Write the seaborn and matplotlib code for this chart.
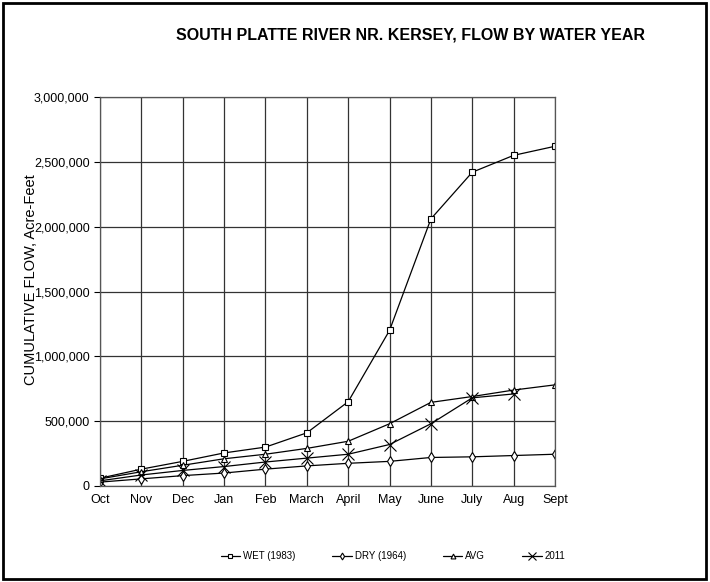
import numpy as np
import pandas as pd
import matplotlib
matplotlib.use('Agg')
import matplotlib.pyplot as plt
import seaborn as sns
from matplotlib.ticker import FuncFormatter

months = ['Oct', 'Nov', 'Dec', 'Jan', 'Feb', 'March', 'April',
          'May', 'June', 'July', 'Aug', 'Sept']
wet_1983 = [60000, 130000, 190000, 255000, 300000, 410000, 650000,
            1200000, 2060000, 2420000, 2550000, 2620000]
dry_1964 = [30000, 55000, 80000, 100000, 130000, 155000, 175000,
            190000, 220000, 225000, 235000, 245000]
avg_flow = [55000, 110000, 160000, 210000, 245000, 290000, 345000,
            480000, 645000, 690000, 740000, 780000]
flow_2011 = [40000, 85000, 120000, 150000, 185000, 215000, 245000,
             320000, 480000, 680000, 710000]
series_names = ['WET (1983)', 'DRY (1964)', 'AVG', '2011']

rows = []
for name, vals in zip(series_names, [wet_1983, dry_1964, avg_flow, flow_2011]):
    for i, v in enumerate(vals):
        rows.append({'month': i, 'flow': v, 'series': name})
df = pd.DataFrame(rows)

sns.set_style('white', {'text.color': 'black', 'xtick.color': 'black',
                        'ytick.color': 'black', 'axes.labelcolor': 'black'})
plt.rcParams['font.family'] = ['Liberation Sans', 'DejaVu Sans']

fig = plt.figure(figsize=(7.1, 5.82), dpi=100)
ax = fig.add_axes([100 / 710, 1 - 486 / 582, 455 / 710, 389 / 582])

markers = {'WET (1983)': 's', 'DRY (1964)': 'd', 'AVG': '^', '2011': 'x'}
sizes = {'WET (1983)': 5, 'DRY (1964)': 5, 'AVG': 5, '2011': 9}
for name in series_names:
    sub = df[df['series'] == name]
    sns.lineplot(data=sub, x='month', y='flow', ax=ax, color='black',
                 linewidth=0.9, marker=markers[name], markersize=sizes[name],
                 markerfacecolor='white', markeredgecolor='black',
                 markeredgewidth=0.8, label=name, legend=False)

ax.set_xlim(0, len(months) - 1)
ax.set_ylim(0, 3000000)
ax.set_xticks(range(len(months)))
ax.set_xticklabels(months, fontsize=9)
ax.set_yticks(np.arange(0, 3000001, 500000))
ax.yaxis.set_major_formatter(FuncFormatter(lambda v, p: f'{int(v):,}'))
ax.tick_params(axis='y', labelsize=9, length=4, color='black', direction='out', left=True)
ax.tick_params(axis='x', length=0, pad=6)
ax.grid(True, color='#333333', linewidth=0.9)
for s in ax.spines.values():
    s.set_color('#555555')
    s.set_linewidth(0.9)
ax.set_xlabel('')
ax.set_ylabel('')

fig.text(31 / 710, 1 - 280 / 582, 'CUMULATIVE FLOW, Acre-Feet', rotation=90,
         ha='center', va='center', fontsize=10.5, color='black')
fig.text(410 / 710, 1 - 35 / 582, 'SOUTH PLATTE RIVER NR. KERSEY, FLOW BY WATER YEAR',
         ha='center', va='center', fontsize=11.5, fontweight='heavy', color='black')

handles, labels = ax.get_legend_handles_labels()
fig.legend(handles, labels, loc='center', bbox_to_anchor=(393 / 710, 1 - 556 / 582),
           ncol=4, frameon=False, fontsize=7, handlelength=2.0, columnspacing=3.8,
           markerscale=0.7, handletextpad=0.3)

fig.patches.append(plt.Rectangle((3 / 710, 3 / 582), 703 / 710, 576 / 582,
                                 transform=fig.transFigure, fill=False,
                                 edgecolor='black', linewidth=2))

fig.savefig('out.png', dpi=100)
